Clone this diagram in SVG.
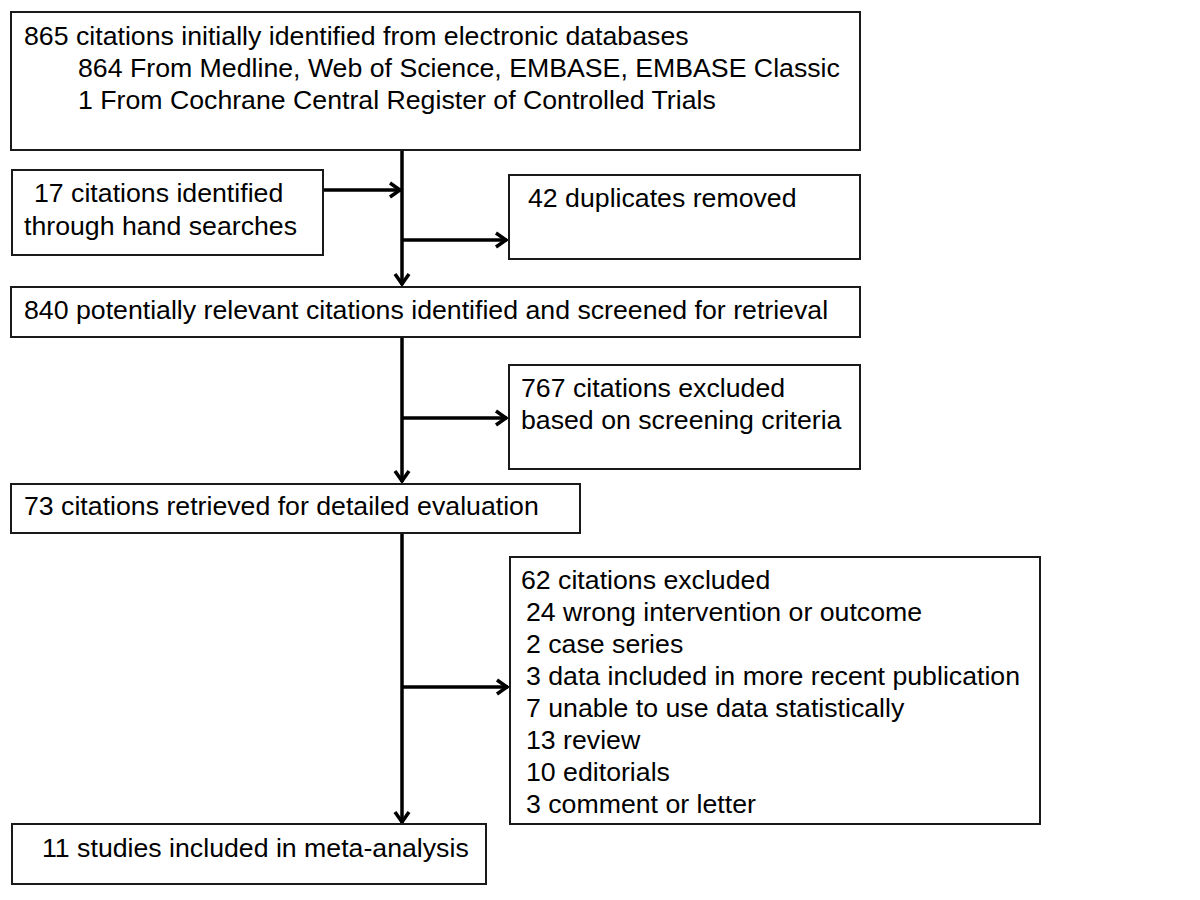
<svg xmlns="http://www.w3.org/2000/svg" width="1200" height="900" viewBox="0 0 1200 900">
<style>
.box{fill:#fff;stroke:#1a1a1a;stroke-width:2}
.t{font-family:"Liberation Sans",Arial,sans-serif;font-size:26.7px;fill:#000}
.c{stroke:#000;stroke-width:3.5;fill:none}
</style>
<defs>
<marker id="ah" viewBox="0 0 16 18" refX="14" refY="9" markerWidth="16" markerHeight="18" markerUnits="userSpaceOnUse" orient="auto">
<polyline points="3,2 13,9 3,16" fill="none" stroke="#000" stroke-width="3.5"/>
</marker>
</defs>
<rect width="1200" height="900" fill="#fff"/>
<g id="connectors">
<line class="c" x1="402" y1="150" x2="402" y2="285" marker-end="url(#ah)"/>
<line class="c" x1="323" y1="190" x2="401" y2="190" marker-end="url(#ah)"/>
<line class="c" x1="402" y1="240" x2="507" y2="240" marker-end="url(#ah)"/>
<line class="c" x1="402" y1="337" x2="402" y2="482" marker-end="url(#ah)"/>
<line class="c" x1="402" y1="418" x2="507" y2="418" marker-end="url(#ah)"/>
<line class="c" x1="402" y1="533" x2="402" y2="823" marker-end="url(#ah)"/>
<line class="c" x1="402" y1="687" x2="508" y2="687" marker-end="url(#ah)"/>
</g>
<g id="n1">
<rect class="box" x="11" y="12" width="849" height="138"/>
<text class="t" x="24" y="45">865 citations initially identified from electronic databases</text>
<text class="t" x="78" y="77">864 From Medline, Web of Science, EMBASE, EMBASE Classic</text>
<text class="t" x="78" y="109">1 From Cochrane Central Register of Controlled Trials</text>
</g>
<g id="n2">
<rect class="box" x="12" y="170" width="311" height="85"/>
<text class="t" x="34" y="202">17 citations identified</text>
<text class="t" x="24" y="235">through hand searches</text>
</g>
<g id="n3">
<rect class="box" x="509" y="175" width="351" height="84"/>
<text class="t" x="528" y="207">42 duplicates removed</text>
</g>
<g id="n4">
<rect class="box" x="11" y="287" width="849" height="50"/>
<text class="t" x="24" y="319">840 potentially relevant citations identified and screened for retrieval</text>
</g>
<g id="n5">
<rect class="box" x="509" y="365" width="351" height="104"/>
<text class="t" x="521" y="397">767 citations excluded</text>
<text class="t" x="521" y="429">based on screening criteria</text>
</g>
<g id="n6">
<rect class="box" x="11" y="484" width="569" height="49"/>
<text class="t" x="24" y="515">73 citations retrieved for detailed evaluation</text>
</g>
<g id="n7">
<rect class="box" x="510" y="557" width="530" height="267"/>
<text class="t" x="521" y="589">62 citations excluded</text>
<text class="t" x="526" y="621">24 wrong intervention or outcome</text>
<text class="t" x="526" y="653">2 case series</text>
<text class="t" x="526" y="685">3 data included in more recent publication</text>
<text class="t" x="526" y="717">7 unable to use data statistically</text>
<text class="t" x="526" y="749">13 review</text>
<text class="t" x="526" y="781">10 editorials</text>
<text class="t" x="526" y="813">3 comment or letter</text>
</g>
<g id="n8">
<rect class="box" x="12" y="824" width="474" height="60"/>
<text class="t" x="42" y="857">11 studies included in meta-analysis</text>
</g>
</svg>
